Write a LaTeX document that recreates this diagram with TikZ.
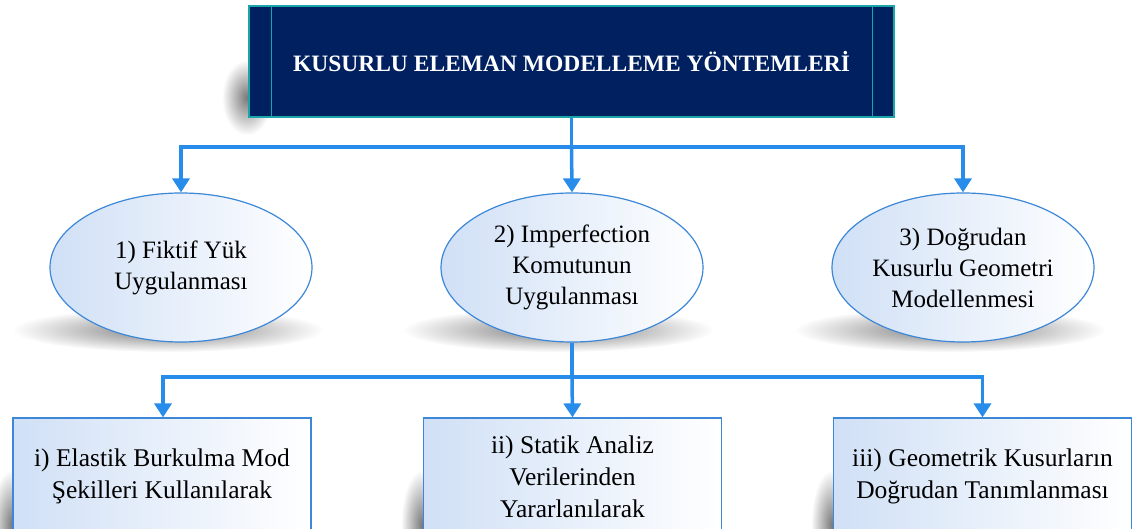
\documentclass[tikz,border=0pt]{standalone}
\usepackage{fontspec}
\setmainfont{Liberation Serif}
\usetikzlibrary{arrows.meta,shapes.geometric,fadings,positioning}
\definecolor{navy}{RGB}{0,32,96}
\definecolor{tealline}{RGB}{25,165,170}
\definecolor{linkblue}{RGB}{40,140,235}
\definecolor{edgeblue}{RGB}{60,135,215}
\definecolor{paleblue}{RGB}{208,224,246}
\tikzfading[name=soft blob,inner color=transparent!25,outer color=transparent!100]

\begin{document}
\begin{tikzpicture}[x=1pt,y=-1pt,>={Triangle[width=17pt,length=14pt]},
  link/.style={->,draw=linkblue,line width=3.5pt},
  top node/.style={rectangle,draw=tealline,line width=1.5pt,fill=navy,text=white,font=\bfseries\fontsize{23.5}{28}\selectfont,minimum width=645pt,minimum height=111pt},
  main node/.style={ellipse,draw=edgeblue,line width=1.2pt,left color=paleblue,right color=white,align=center,inner sep=0pt,font=\fontsize{25}{31}\selectfont,minimum width=262pt,minimum height=149pt},
  rect node/.style={rectangle,draw=edgeblue,line width=1.2pt,left color=paleblue,right color=white,align=center,font=\fontsize{25.5}{32}\selectfont,minimum width=298pt,minimum height=117pt},
  shade blob/.style={fill=black!70,path fading=soft blob}]

  \clip (0,0) rectangle (1140,529);
  \fill[white] (0,0) rectangle (1140,529);

  % shadows
  \fill[shade blob] (222,60) rectangle (272,135);
  \foreach \cx in {168,558,950}
    \fill[shade blob] (\cx,330) ellipse (155pt and 22pt);
  \foreach \bx in {13,423,833}
    \fill[shade blob] (\bx-22,470) rectangle (\bx+20,580);

  \node[top node] (top) at (571.5,61.5) {KUSURLU ELEMAN MODELLEME YÖNTEMLERİ};
  \draw[tealline,line width=1.2pt] ([xshift=23pt]top.north west) -- ([xshift=23pt]top.south west);
  \draw[tealline,line width=1.2pt] ([xshift=-22pt]top.north east) -- ([xshift=-22pt]top.south east);

  \node[main node] (n1) at (181,267.5) {1) Fiktif Yük\\Uygulanması};
  \node[main node] (n2) at (572,267.5) {2) Imperfection\\Komutunun\\Uygulanması};
  \node[main node] (n3) at (963,267.5) {3) Doğrudan\\Kusurlu Geometri\\Modellenmesi};

  \node[rect node] (r1) at (162,476.5) {i) Elastik Burkulma Mod\\Şekilleri Kullanılarak};
  \node[rect node] (r2) at (572.5,476.5) {ii) Statik Analiz\\Verilerinden\\Yararlanılarak};
  \node[rect node] (r3) at (982.5,476.5) {iii) Geometrik Kusurların\\Doğrudan Tanımlanması};

  \coordinate (b1) at (571.5,147);
  \coordinate (b2) at (572,377);
  \draw[link,-] (top.south) -- (b1);
  \draw[link] (b1) -| (n1.north);
  \draw[link] (b1) -- (n2.north);
  \draw[link] (b1) -| (n3.north);

  \draw[link,-] (n2.south) -- (b2);
  \draw[link] (b2) -| ([xshift=1pt]r1.north);
  \draw[link] (b2) -- (r2.north);
  \draw[link] (b2) -| (r3.north);
\end{tikzpicture}
\end{document}
